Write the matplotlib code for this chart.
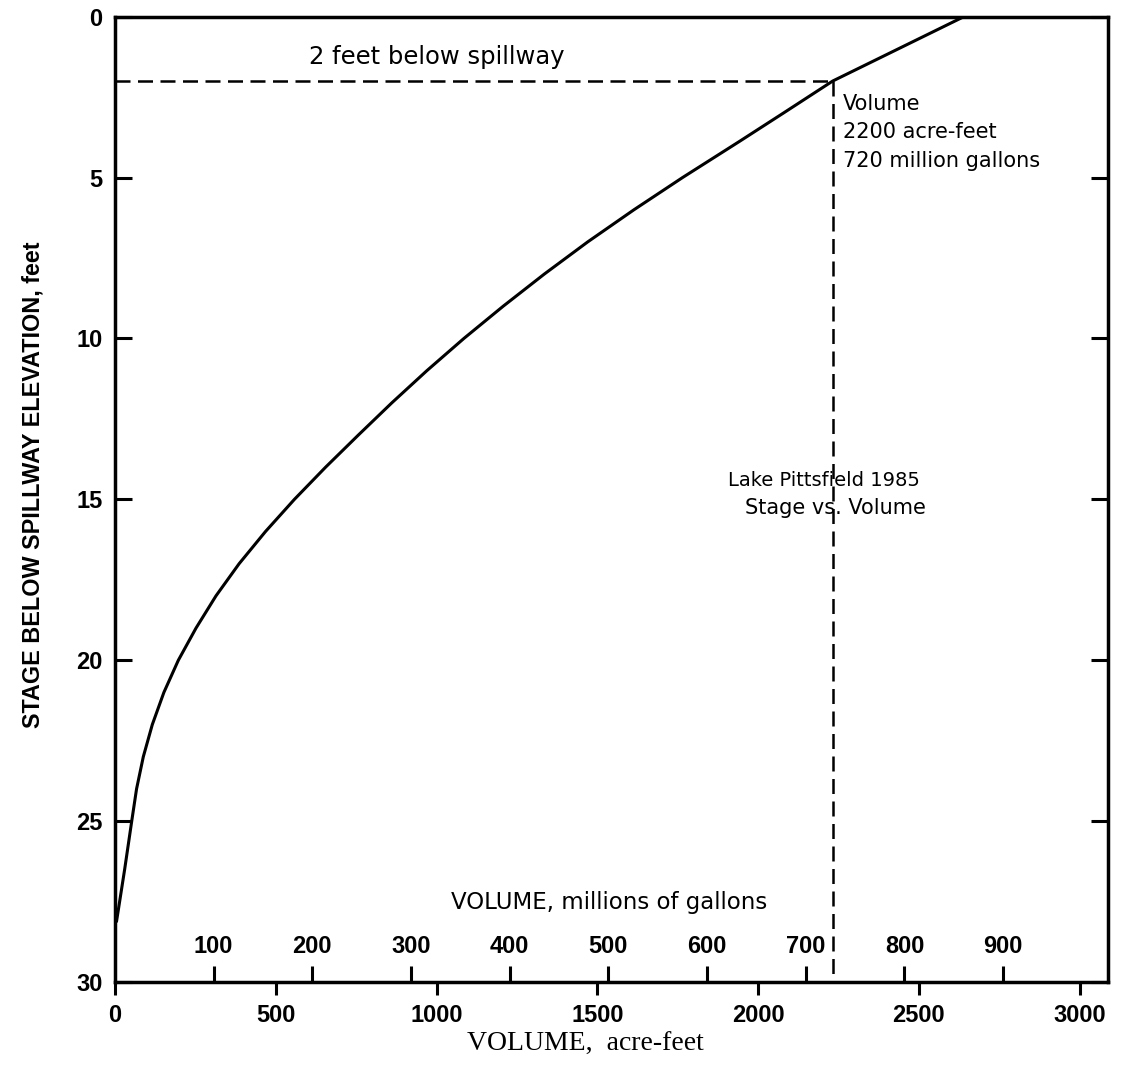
import matplotlib
matplotlib.use("Agg")
import matplotlib.pyplot as plt
import numpy as np

# stage below spillway (ft) vs. volume (acre-feet)
stage_ft = [0.0, 1.0, 2.0, 3.0, 3.87, 5.0, 6.0, 7.0, 8.0, 9.0, 10.0, 11.0,
            12.0, 13.0, 14.0, 15.0, 16.0, 17.0, 18.0, 19.0, 20.0, 21.0,
            22.0, 23.0, 24.0, 25.0, 26.5, 28.1]
volume_af = [2640, 2436, 2232, 2078, 1943, 1765, 1614, 1470, 1335, 1207,
             1085, 970, 861, 757, 655, 558, 468, 386, 314, 252, 197, 152,
             116, 88, 67, 52, 30, 5]

spill_stage = 2.0
spill_volume = 2232

af_ticks = [0, 500, 1000, 1500, 2000, 2500, 3000]
mgal_ticks = [100, 200, 300, 400, 500, 600, 700, 800, 900]
stage_ticks = [0, 5, 10, 15, 20, 25, 30]

MGAL_PER_AF = 0.325851

SANS = "DejaVu Sans"
BOLD = "Liberation Sans"


def af_to_mgal(x):
    return np.asarray(x) * MGAL_PER_AF


def mgal_to_af(x):
    return np.asarray(x) / MGAL_PER_AF


fig = plt.figure(figsize=(11.22, 10.75), dpi=100)
ax = fig.add_axes([0.1025, 0.0865, 0.885, 0.898])

ax.plot(volume_af, stage_ft, color="black", linewidth=2.2)
ax.plot([0, spill_volume], [spill_stage, spill_stage], color="black",
        linewidth=1.8, linestyle=(0, (6, 3)))
ax.plot([spill_volume, spill_volume], [spill_stage, 30], color="black",
        linewidth=1.8, linestyle=(0, (6, 3)))

ax.set_xlim(0, 3088)
ax.set_ylim(30, 0)

for s in ax.spines.values():
    s.set_linewidth(2.5)

ax.set_xticks(af_ticks)
ax.set_xticklabels([str(t) for t in af_ticks], fontfamily=BOLD,
                   fontweight="bold", fontsize=17)
ax.tick_params(axis="x", direction="out", length=9.5, width=2.2, pad=6)

ax.set_yticks(stage_ticks)
ax.set_yticklabels([str(t) for t in stage_ticks], fontfamily=BOLD,
                   fontweight="bold", fontsize=17)
ax.tick_params(axis="y", direction="in", length=12, width=2.2, pad=9,
               left=True, right=True)

sec = ax.secondary_xaxis("bottom", functions=(af_to_mgal, mgal_to_af))
sec.set_xticks(mgal_ticks)
sec.set_xticklabels([str(t) for t in mgal_ticks], fontfamily=BOLD,
                    fontweight="bold", fontsize=17)
sec.tick_params(axis="x", direction="in", length=11.5, width=2.2, pad=-34)
sec.spines["bottom"].set_visible(False)

ax.set_ylabel("STAGE BELOW SPILLWAY ELEVATION, feet", fontfamily=BOLD,
              fontweight="bold", fontsize=16.8)
ax.yaxis.set_label_coords(-0.0715, 0.515)
ax.set_xlabel("VOLUME,  acre-feet", fontfamily="Liberation Serif", fontsize=20)
ax.xaxis.set_label_coords(0.474, -0.052)

ax.text(1001, 1.26, "2 feet below spillway", fontfamily=SANS, fontsize=17.5,
        ha="center", va="center")
ax.text(2264, 2.91, "Volume", fontfamily=SANS, fontsize=15, va="baseline")
ax.text(2264, 3.78, "2200 acre-feet", fontfamily=SANS, fontsize=15,
        va="baseline")
ax.text(2264, 4.68, "720 million gallons", fontfamily=SANS, fontsize=15,
        va="baseline")
ax.text(1906, 14.59, "Lake Pittsfield 1985", fontfamily=SANS, fontsize=14,
        va="baseline")
ax.text(1959, 15.46, "Stage vs. Volume", fontfamily=SANS, fontsize=15,
        va="baseline")
ax.text(1536, 27.72, "VOLUME, millions of gallons", fontfamily=SANS,
        fontsize=16.5, ha="center", va="baseline")

fig.savefig("out.png", dpi=100)
